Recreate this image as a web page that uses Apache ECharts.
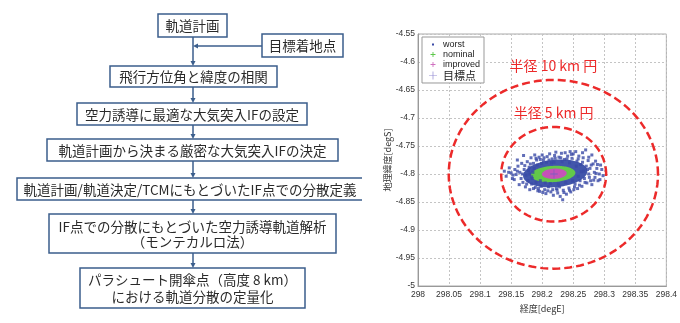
<!DOCTYPE html>
<html>
<head>
<meta charset="utf-8">
<script src="https://cdn.jsdelivr.net/npm/echarts@6/dist/echarts.min.js"></script>
<style>
html, body { margin: 0; padding: 0; background: #fff; }
#main { width: 680px; height: 323px; }
</style>
</head>
<body>
<div id="main"></div>
<script>
// flowchart steps (top to bottom)
var steps = [
    ['軌道計画'],
    ['飛行方位角と緯度の相関'],
    ['空力誘導に最適な大気突入IFの設定'],
    ['軌道計画から決まる厳密な大気突入IFの決定'],
    ['軌道計画/軌道決定/TCMにもとづいたIF点での分散定義'],
    ['IF点での分散にもとづいた空力誘導軌道解析', '（モンテカルロ法）'],
    ['パラシュート開傘点（高度 8 km）', 'における軌道分散の定量化']
];
var sideStep = '目標着地点';

// scatter plot data [lon degE, lat degS]
var targetPoint = [[298.219, -4.800]];
var circleNames = ['半径 10 km 円', '半径 5 km 円'];
var circleData = [[298.218, -4.8005, 0.1685], [298.2185, -4.8005, 0.0845]];
// dense cores [cx, cy, rx, ry, tilt(deg)]
var worstCore = [[298.221, -4.799, 0.052, 0.0245, 6]];
var nominalCore = [[298.2175, -4.800, 0.036, 0.0145, 4]];
var improvedCore = [[298.2195, -4.7995, 0.020, 0.0092, 3]];
var worstPoints = [
    [298.139,-4.795],[298.142,-4.804],[298.147,-4.789],[298.150,-4.798],[298.152,-4.808],[298.155,-4.810],
    [298.156,-4.792],[298.158,-4.801],[298.160,-4.775],[298.161,-4.786],[298.163,-4.819],[298.164,-4.797],
    [298.166,-4.808],[298.167,-4.781],[298.169,-4.815],[298.170,-4.767],[298.171,-4.792],[298.173,-4.823],
    [298.174,-4.802],[298.176,-4.778],[298.177,-4.812],[298.179,-4.788],[298.180,-4.828],[298.182,-4.771],
    [298.183,-4.818],[298.185,-4.797],[298.186,-4.781],[298.188,-4.766],[298.189,-4.824],[298.191,-4.775],
    [298.193,-4.830],[298.195,-4.770],[298.196,-4.831],[298.198,-4.822],[298.200,-4.766],[298.202,-4.776],
    [298.204,-4.828],[298.206,-4.835],[298.208,-4.769],[298.210,-4.823],[298.212,-4.764],[298.214,-4.832],
    [298.216,-4.773],[298.218,-4.838],[298.220,-4.767],[298.222,-4.761],[298.223,-4.826],[298.225,-4.834],
    [298.227,-4.770],[298.229,-4.840],[298.231,-4.763],[298.233,-4.846],[298.234,-4.829],[298.236,-4.774],
    [298.237,-4.762],[298.239,-4.836],[298.241,-4.768],[298.243,-4.825],[298.245,-4.760],[298.246,-4.832],
    [298.248,-4.772],[298.250,-4.764],[298.251,-4.828],[298.253,-4.818],[298.254,-4.760],[298.256,-4.777],
    [298.257,-4.826],[298.259,-4.768],[298.261,-4.812],[298.262,-4.783],[298.264,-4.822],[298.266,-4.771],
    [298.267,-4.795],[298.268,-4.808],[298.270,-4.757],[298.271,-4.786],[298.272,-4.816],[298.274,-4.776],
    [298.275,-4.800],[298.277,-4.790],[298.278,-4.812],[298.280,-4.766],[298.280,-4.819],[298.282,-4.782],
    [298.284,-4.797],[298.285,-4.806],[298.286,-4.777],[298.288,-4.790],[298.290,-4.812],[298.292,-4.800],
    [298.293,-4.810],[298.294,-4.784],[298.296,-4.792],[298.298,-4.803],
    [298.180,-4.800],[298.184,-4.808],[298.187,-4.790],[298.190,-4.815],[298.192,-4.784],[298.197,-4.812],
    [298.199,-4.781],[298.205,-4.816],[298.207,-4.779],[298.213,-4.817],[298.219,-4.779],[298.226,-4.818],
    [298.232,-4.778],[298.238,-4.815],[298.244,-4.780],[298.249,-4.812],[298.255,-4.786],[298.258,-4.804],
    [298.263,-4.796],[298.228,-4.823],[298.215,-4.780],
    [298.168,-4.800],[298.172,-4.785],[298.175,-4.818],[298.178,-4.794],[298.181,-4.782],[298.183,-4.805],
    [298.186,-4.826],[298.190,-4.772],[298.194,-4.826],[298.197,-4.774],[298.201,-4.833],[298.203,-4.771],
    [298.209,-4.830],[298.211,-4.775],[298.217,-4.828],[298.221,-4.772],[298.224,-4.829],[298.230,-4.771],
    [298.235,-4.833],[298.240,-4.773],[298.244,-4.829],[298.247,-4.765],[298.252,-4.823],[298.258,-4.773],
    [298.260,-4.820],[298.265,-4.779],[298.269,-4.815],[298.273,-4.792],[298.276,-4.806],[298.279,-4.784],
    [298.283,-4.811],[298.287,-4.799],[298.289,-4.783],[298.265,-4.762],[298.275,-4.770],[298.160,-4.795],
    [298.153,-4.802],[298.146,-4.797]
];

var jpFont = '"Noto Sans CJK JP", sans-serif';
var boxColor = '#3b5e8c';
var textColor = '#2a2a2a';

// ---- flowchart graphics ----
var graphics = [];
function box(x1, y1, x2, y2, lines, lh) {
    graphics.push({
        type: 'rect', shape: { x: x1, y: y1, width: x2 - x1, height: y2 - y1 },
        style: { fill: '#fff', stroke: boxColor, lineWidth: 1.5 }
    });
    graphics.push({
        type: 'text', x: (x1 + x2) / 2, y: (y1 + y2) / 2 + 0.5,
        style: {
            text: lines.join('\n'), fontSize: 13.5, fontFamily: jpFont, fill: textColor,
            align: 'center', verticalAlign: 'middle', textAlign: 'center', textVerticalAlign: 'middle',
            lineHeight: lh || 16
        }
    });
}
function arrowDown(x, y1, y2) {
    graphics.push({ type: 'line', shape: { x1: x, y1: y1, x2: x, y2: y2 - 2 }, style: { stroke: boxColor, lineWidth: 1.5 } });
    graphics.push({ type: 'polygon', shape: { points: [[x - 2.5, y2 - 5], [x + 2.5, y2 - 5], [x, y2]] }, style: { fill: boxColor } });
}

var cx = 193;
box(158, 14, 227, 37, steps[0]);
box(262, 34, 343, 57, [sideStep]);
box(110, 66, 277, 87, steps[1]);
box(77, 103, 307, 125, steps[2]);
box(47, 139, 338, 161, steps[3]);
// step 5 runs off the right edge of the panel
graphics.push({
    type: 'polyline', shape: { points: [[362, 178], [17, 178], [17, 200], [362, 200]] },
    style: { fill: '#fff', stroke: boxColor, lineWidth: 1.5 }
});
graphics.push({
    type: 'text', x: 190, y: 189.5,
    style: {
        text: steps[4][0], fontSize: 13.5, fontFamily: jpFont, fill: textColor,
        align: 'center', verticalAlign: 'middle', textAlign: 'center', textVerticalAlign: 'middle'
    }
});
box(49, 214, 336, 253, steps[5], 15);
box(80, 268, 305, 308, steps[6], 17.5);

arrowDown(cx, 37, 66);
arrowDown(cx, 87, 103);
arrowDown(cx, 125, 139);
arrowDown(cx, 161, 178);
arrowDown(cx, 200, 214);
arrowDown(cx, 253, 268);
graphics.push({ type: 'line', shape: { x1: 262, y1: 46, x2: cx + 2, y2: 46 }, style: { stroke: boxColor, lineWidth: 1.5 } });
graphics.push({ type: 'polygon', shape: { points: [[cx, 46], [cx + 5, 43.5], [cx + 5, 48.5]] }, style: { fill: boxColor } });

// ---- helpers for ellipse shapes (drawn through the axis scales) ----
function ellipsePoints(api, x0, y0, rx, ry, tiltDeg) {
    var a = tiltDeg * Math.PI / 180, pts = [];
    for (var k = 0; k <= 120; k++) {
        var t = k / 120 * Math.PI * 2;
        var ex = rx * Math.cos(t), ey = ry * Math.sin(t);
        pts.push(api.coord([x0 + ex * Math.cos(a) - ey * Math.sin(a), y0 + ex * Math.sin(a) + ey * Math.cos(a)]));
    }
    return pts;
}
function coreSeries(name, data, color) {
    return {
        name: name, type: 'custom', data: data, z: 3,
        renderItem: function (params, api) {
            return {
                type: 'polygon',
                shape: { points: ellipsePoints(api, api.value(0), api.value(1), api.value(2), api.value(3), api.value(4)) },
                style: { fill: color }
            };
        }
    };
}

function plus(s, w) {
    return 'path://M0,0M12,8M' + (6 - w / 2) + ',' + (4 - s) + 'h' + w + 'v' + (2 * s) + 'h-' + w +
        'zM' + (6 - s) + ',' + (4 - w / 2) + 'h' + (2 * s) + 'v' + w + 'h-' + (2 * s) + 'z';
}

var option = {
    animation: false,
    backgroundColor: '#fff',
    graphic: { elements: graphics },
    grid: { left: 418, right: 7, top: 34, bottom: 37, show: true, borderColor: '#aaa', borderWidth: 1, backgroundColor: '#fff' },
    legend: {
        orient: 'vertical', left: 422, top: 37,
        padding: [3, 4, 2, 5], itemGap: 1, itemWidth: 12, itemHeight: 8,
        backgroundColor: '#fff', borderColor: '#999', borderWidth: 1, borderRadius: 0,
        textStyle: { fontSize: 9, color: '#222', fontFamily: 'Liberation Sans, sans-serif', padding: [0, 0, 0, -1] },
        data: [
            { name: 'worst', icon: 'path://M0,0M12,8M5,3h2v2h-2z', itemStyle: { color: '#3a4aa6' } },
            { name: 'nominal', icon: plus(2.5, 0.9), itemStyle: { color: '#5cc84a' } },
            { name: 'improved', icon: plus(2.5, 0.9), itemStyle: { color: '#d070c0' } },
            { name: '目標点', icon: plus(4.5, 0.8), itemStyle: { color: '#7a70c8' }, textStyle: { fontSize: 11, fontFamily: jpFont } }
        ]
    },
    xAxis: {
        type: 'value', min: 298, max: 298.4, interval: 0.05,
        name: '経度[degE]', nameLocation: 'middle', nameGap: 17,
        nameTextStyle: { fontSize: 9, color: '#333', fontFamily: jpFont },
        axisLine: { lineStyle: { color: '#999' } },
        axisTick: { show: false },
        axisLabel: { fontSize: 8.5, color: '#333', margin: 4, fontFamily: 'Liberation Sans, sans-serif' },
        splitLine: { show: true, lineStyle: { color: '#c4c4c4', type: [2, 2] } }
    },
    yAxis: {
        type: 'value', min: -5, max: -4.55, interval: 0.05,
        name: '地理緯度[degS]', nameLocation: 'middle', nameGap: 25,
        nameTextStyle: { fontSize: 9, color: '#333', fontFamily: jpFont },
        axisLine: { show: true, lineStyle: { color: '#999' } },
        axisTick: { show: false },
        axisLabel: { fontSize: 8.5, color: '#333', margin: 3, fontFamily: 'Liberation Sans, sans-serif' },
        splitLine: { show: true, lineStyle: { color: '#c4c4c4', type: [2, 2] } }
    },
    series: [
        {
            name: 'circles', type: 'custom', data: circleData, z: 2,
            renderItem: function (params, api) {
                var x0 = api.value(0), y0 = api.value(1), r = api.value(2);
                var top = api.coord([x0, y0 + r]);
                return {
                    type: 'group',
                    children: [
                        { type: 'polyline', shape: { points: ellipsePoints(api, x0, y0, r, r, 0) },
                          style: { fill: 'none', stroke: '#ec2a2a', lineWidth: 2.5, lineDash: [8, 4] } },
                        { type: 'text', x: top[0], y: top[1] - 14,
                          style: { text: circleNames[params.dataIndex], fontSize: 14, fontFamily: jpFont, fill: '#ec2a2a',
                                   align: 'center', verticalAlign: 'middle', textAlign: 'center', textVerticalAlign: 'middle' } }
                    ]
                };
            }
        },
        coreSeries('worst', worstCore, '#4256ab'),
        {
            name: 'worst', type: 'scatter', data: worstPoints, z: 3,
            symbol: 'rect', symbolSize: 3, itemStyle: { color: '#3a4aa6' }
        },
        coreSeries('nominal', nominalCore, '#62c84a'),
        coreSeries('improved', improvedCore, '#c652b8'),
        {
            name: '目標点', type: 'scatter', data: targetPoint, z: 5,
            symbol: plus(4.5, 0.8), symbolSize: [10, 9], itemStyle: { color: '#6a5fc0' }
        }
    ]
};

var chart = echarts.init(document.getElementById('main'));
chart.setOption(option);
</script>
</body>
</html>
